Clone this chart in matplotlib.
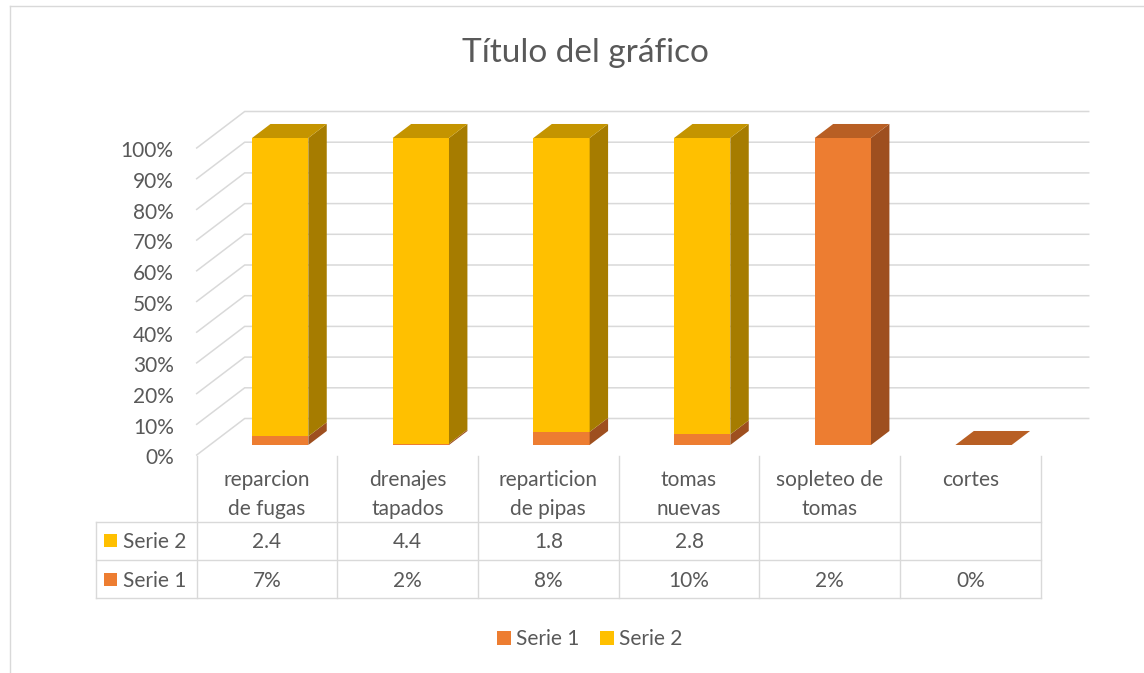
import numpy as np
import matplotlib
matplotlib.use("Agg")
import matplotlib.pyplot as plt
from matplotlib.patches import Polygon, Rectangle, Patch

# data
categories = ["reparcion\nde fugas", "drenajes\ntapados", "reparticion\nde pipas",
              "tomas\nnuevas", "sopleteo de\ntomas", "cortes"]
serie_1 = [0.07, 0.02, 0.08, 0.10, 0.02, 0.00]
serie_2 = [2.4, 4.4, 1.8, 2.8, None, None]
series_names = ["Serie 1", "Serie 2"]
y_ticks = [0.0, 0.1, 0.2, 0.3, 0.4, 0.5, 0.6, 0.7, 0.8, 0.9, 1.0]
title = "Título del gráfico"

W, H = 1144, 673
plt.rcParams["font.family"] = ["Lato", "DejaVu Sans"]
TEXT = "#595959"
GRID = "#D9D9D9"
FS = 15
# (front, top, side)
ORANGE = ("#ED7D31", "#B85F24", "#9E4F1F")
YELLOW = ("#FFC000", "#C49400", "#A67C00")
PX = 0.72  # points per pixel at dpi 100

fig = plt.figure(figsize=(W / 100, H / 100), dpi=100)

# front plane of the 3d plot, in pixels
left_px, right_px = 196.7, 1040.7
base_px, top_px = 455.0, 148.0
n = len(categories)
col_w = (right_px - left_px) / n

ax = fig.add_axes([left_px / W, 1 - base_px / H,
                   (right_px - left_px) / W, (base_px - top_px) / H])
ax.set_xlim(0, n)
ax.set_ylim(0, 1)
ax.axis("off")

# depth of the floor and of the bars (fraction of floor depth)
DX = 48.0 / col_w
DY = 36.5 / (base_px - top_px)
f0, f1 = 0.274, 0.658
bw = 0.4

# walls: back gridlines + left side diagonals
for v in y_ticks:
    ax.plot([0, DX, n + DX], [v, v + DY, v + DY], color=GRID, lw=1.1,
            clip_on=False, zorder=1, solid_joinstyle="miter")
    ax.annotate(f"{v:.0%}", xy=(0, v), xytext=(-23 * PX, -9.3 * PX),
                textcoords="offset points", ha="right", va="baseline",
                fontsize=FS, color=TEXT)

# 100% stacked shares
s1 = np.array(serie_1, dtype=float)
s2 = np.array([0.0 if v is None else v for v in serie_2], dtype=float)
tot = s1 + s2
share1 = np.divide(s1, tot, out=np.zeros_like(s1), where=tot > 0)
share2 = np.divide(s2, tot, out=np.zeros_like(s2), where=tot > 0)

x = np.arange(n) + 0.5 + f0 * DX
z0 = f0 * DY
ddx, ddy = (f1 - f0) * DX, (f1 - f0) * DY

ax.bar(x, share1, bottom=z0, width=bw, color=ORANGE[0], zorder=3, clip_on=False)
ax.bar(x, share2, bottom=share1 + z0, width=bw, color=YELLOW[0], zorder=3,
       clip_on=False)

for i in range(n):
    xl, xr = x[i] - bw / 2, x[i] + bw / 2
    segs = [(0.0, share1[i], ORANGE), (share1[i], share2[i], YELLOW)]
    top_col = ORANGE
    for b, h, col in segs:
        if h <= 0:
            continue
        top_col = col
        ax.add_patch(Polygon([(xr, b + z0), (xr + ddx, b + z0 + ddy),
                              (xr + ddx, b + h + z0 + ddy), (xr, b + h + z0)],
                             closed=True, facecolor=col[2], edgecolor="none",
                             zorder=3, clip_on=False))
    t = share1[i] + share2[i] + z0
    ax.add_patch(Polygon([(xl, t), (xr, t), (xr + ddx, t + ddy), (xl + ddx, t + ddy)],
                         closed=True, facecolor=top_col[1], edgecolor="none",
                         zorder=3, clip_on=False))

# overlay in pixel coordinates for the title, data table, legend and frame
ov = fig.add_axes([0, 0, 1, 1])
ov.set_xlim(0, W)
ov.set_ylim(H, 0)
ov.axis("off")

# chart frame
ov.plot([10, W + 5], [6, 6], color=GRID, lw=1.0, clip_on=False)
ov.plot([10, 10], [6, H + 5], color=GRID, lw=1.0, clip_on=False)

ov.text(585.5, 62, title, ha="center", va="baseline", fontsize=24, color=TEXT)

# data table
row_lines = [521.7, 560.0, 598.0]
tkw = dict(color=GRID, lw=1.0, clip_on=False, solid_capstyle="projecting")
for k in range(n + 1):
    ov.plot([left_px + k * col_w] * 2, [456, row_lines[-1]], **tkw)
ov.plot([96, 96], [row_lines[0], row_lines[-1]], **tkw)
for yy in row_lines:
    ov.plot([96, right_px], [yy, yy], **tkw)

for i, lab in enumerate(categories):
    cx = left_px + (i + 0.5) * col_w
    for j, line in enumerate(lab.split("\n")):
        ov.text(cx, 486 + 29 * j, line, ha="center", va="baseline",
                fontsize=FS, color=TEXT)
    if serie_2[i] is not None:
        ov.text(cx, 548.3, f"{serie_2[i]:.1f}", ha="center", va="baseline",
                fontsize=FS, color=TEXT)
    ov.text(cx, 586.7, f"{serie_1[i]:.0%}", ha="center", va="baseline",
            fontsize=FS, color=TEXT)

ov.add_patch(Rectangle((104, 534.3), 13, 13, facecolor=YELLOW[0], edgecolor="none"))
ov.text(123, 548.3, series_names[1], ha="left", va="baseline", fontsize=FS, color=TEXT)
ov.add_patch(Rectangle((104, 572.7), 13, 13, facecolor=ORANGE[0], edgecolor="none"))
ov.text(123, 586.7, series_names[0], ha="left", va="baseline", fontsize=FS, color=TEXT)

# legend
handles = [Patch(facecolor=ORANGE[0], label=series_names[0]),
           Patch(facecolor=YELLOW[0], label=series_names[1])]
ov.legend(handles=handles, loc="center", bbox_to_anchor=(590 / W, 1 - 639 / H),
          ncol=2, frameon=False, fontsize=FS, labelcolor=TEXT,
          handlelength=0.65, handleheight=0.65, handletextpad=0.25,
          columnspacing=1.0, borderpad=0)

fig.savefig("out.png", dpi=100, facecolor="white")
